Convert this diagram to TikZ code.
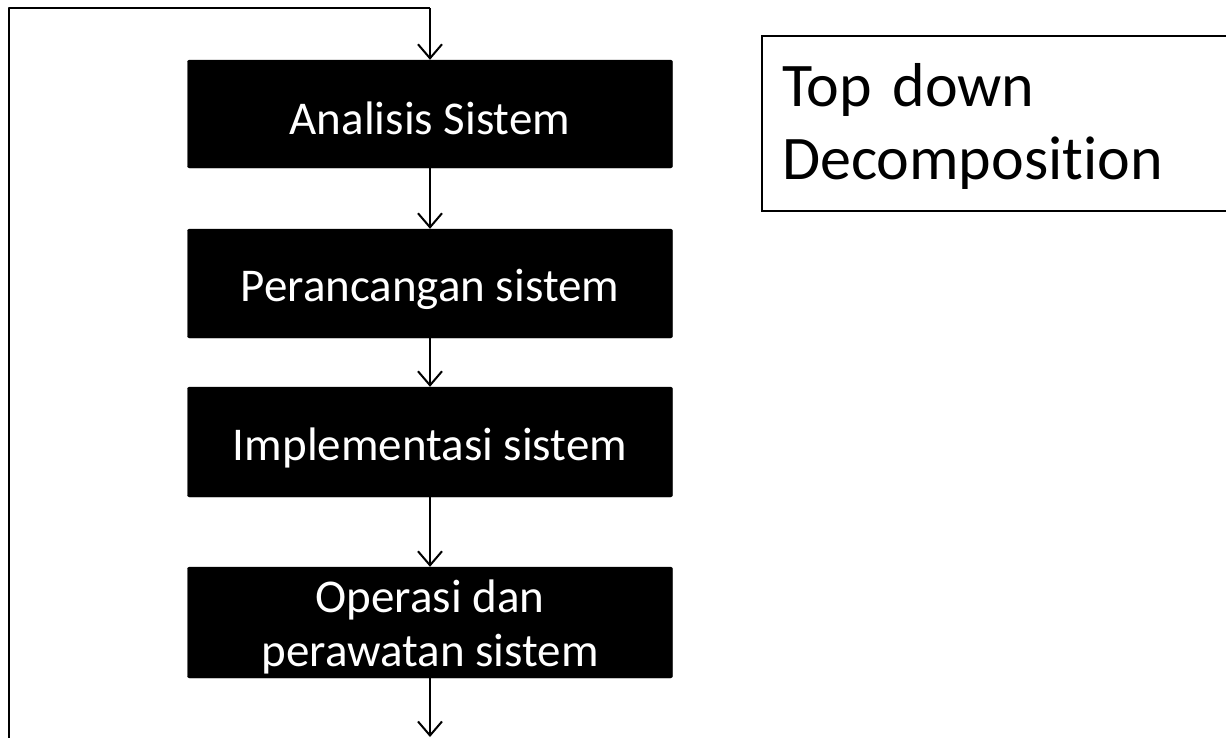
\documentclass[tikz,border=0pt]{standalone}
\usepackage{fontspec}
\setmainfont[Ligatures=NoCommon]{Carlito}
\usetikzlibrary{arrows.meta}
\newcommand{\lowered}[2]{\raisebox{-#1}[\height][\depth]{#2}}
\begin{document}
\begin{tikzpicture}[x=1pt,y=-1pt,
  stagebox/.style={fill=black,draw=black,rounded corners=2pt,text=white,
    minimum width=485pt,inner sep=0pt,align=center,
    font=\fontsize{47}{54}\selectfont},
  link/.style={line width=2pt,-{Straight Barb[length=14pt,width=24pt,line width=2pt]}},
  frameline/.style={line width=2pt}]
\useasboundingbox (0,0) rectangle (1226,737);
\node[stagebox,minimum height=108pt] (a) at (430,114) {\lowered{4pt}{Analisis Sistem}};
\node[stagebox,minimum height=109pt] (b) at (430,283.5) {\lowered{6pt}{Perancangan sistem}};
\node[stagebox,minimum height=110pt] (c) at (430,442) {\lowered{6pt}{Implementasi sistem}};
\node[stagebox,minimum height=111pt] (d) at (430,622.5) {\lowered{6pt}{\begin{tabular}{@{}c@{}}Operasi dan\\perawatan sistem\end{tabular}}};
\coordinate (loopbl) at (9,745);
\coordinate (looptl) at (9,8);
\coordinate (looptr) at (430,8);
\coordinate (out) at (430,737);
\draw[frameline,line join=round] (loopbl) -- (looptl) -- (looptr);
\draw[link] (looptr) -- (a.north);
\draw[link] (a) -- (b);
\draw[link] (b) -- (c);
\draw[link] (c) -- (d);
\draw[link] (d) -- (out);
\node[draw=black,line width=2pt,anchor=north west,minimum width=480pt,minimum height=175pt,
  text width=440pt,align=left,inner xsep=20pt,inner ysep=0pt,
  font=\fontsize{62}{73}\selectfont] (td) at (761,35) {\lowered{5pt}{\begin{tabular}{@{}l@{}}Top down\\Decomposition\end{tabular}}};
\end{tikzpicture}
\end{document}
